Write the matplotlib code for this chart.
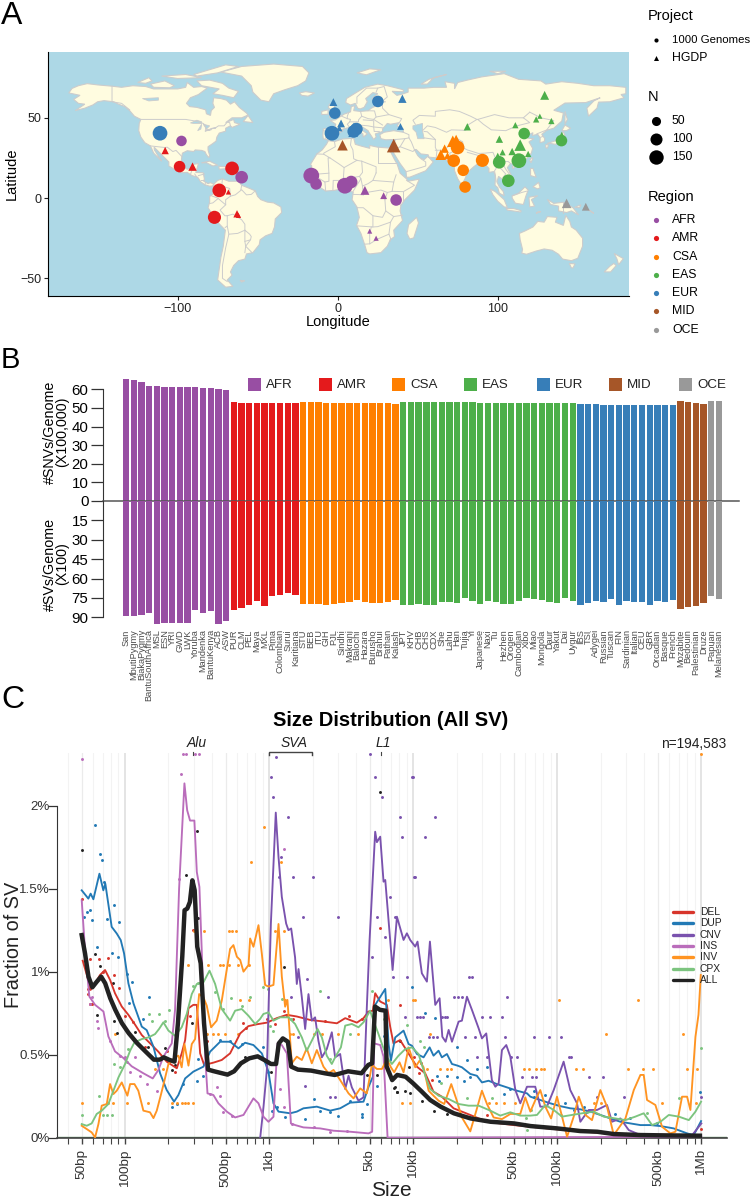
import numpy as np
import matplotlib
matplotlib.use("Agg")
import matplotlib.pyplot as plt
from matplotlib.ticker import NullFormatter

plt.rcParams["font.family"] = ["Liberation Sans", "DejaVu Sans"]
plt.rcParams["axes.unicode_minus"] = True

W, H = 752, 1200

region_names = ["AFR", "AMR", "CSA", "EAS", "EUR", "MID", "OCE"]
region_colors = ["#984EA3", "#E41A1C", "#FF7F00", "#4DAF4A", "#377EB8", "#A65628", "#999999"]

# ---- panel A data: coarse world outline (lon, lat)
land_outlines = [
    [(-168,65.5),(-166,68.3),(-162,70),(-156.5,71.3),(-150,70.5),(-141,69.7),(-135,69),(-128,70),(-120,69.5),(-115,68),(-108,68),(-100,68),(-95,69),(-94,72),(-90,69),(-85,69.5),(-81.5,68.5),(-85,66),(-87,64.5),(-92,62.5),(-94.5,59),(-92.5,57),(-88,56.5),(-82.5,55),(-82,52.5),(-79.5,51.5),(-79,54.5),(-77,56.5),(-78,59),(-77.5,62.5),(-73,62),(-69.5,61),(-67,58.5),(-64.5,60),(-61.5,56.5),(-57,53),(-56,51.7),(-60,50),(-66,50),(-70,47),(-65,49),(-64.5,47),(-61,46),(-66,44),(-67,45),(-70,43.5),(-70,41.7),(-74,40.5),(-75.5,38),(-76,35.5),(-78,34),(-81,32),(-81,30),(-80,26.5),(-80.5,25.2),(-82,27),(-83,29),(-85,29.7),(-89,30),(-90,29),(-94,29.5),(-97,28),(-97.5,25),(-97.8,22),(-96,19),(-94,18),(-91.5,18.5),(-90.5,21),(-87,21.5),(-88,18),(-88.7,16),(-84,15.8),(-83.3,12),(-83.7,10.5),(-81,9),(-79.5,9.6),(-77.4,8.7),(-78,7.5),(-80,7.4),(-83,8.3),(-85.5,10),(-87.5,13),(-91,14),(-94,16),(-97,15.8),(-101,17.3),(-105.5,20),(-105.5,22.5),(-109,26),(-112.5,29.5),(-114.7,31.7),(-114.5,30),(-112,26),(-110,23),(-112,25),(-115,28),(-117,32.5),(-120.5,34.5),(-123,38),(-124.3,42),(-124,46.5),(-123,49),(-127,51),(-130,54.5),(-133,57),(-137,58.5),(-140,60),(-146,60.7),(-150,60),(-153,58),(-158,56),(-164,54.5),(-158,58.5),(-162,59),(-165,61.5),(-161,64)],
    [(-73,78.5),(-60,82),(-40,83.5),(-22,82),(-18,78),(-20,73),(-25,70),(-33,67.5),(-40,65),(-43,60),(-48,61),(-53,66),(-54,70),(-60,76)],
    [(-80,73.5),(-72,71.5),(-68,68.5),(-62,66.5),(-65,62.5),(-72,64),(-78,65),(-74,68),(-85,70),(-88,73)],
    [(-117,71),(-108,73),(-102,70),(-105,68.7),(-115,69)],
    [(-125,72),(-118,75),(-116,73),(-120,71.5)],
    [(-90,77),(-70,83),(-62,82),(-75,78),(-88,76)],
    [(-110,76),(-95,77),(-85,75),(-100,74.5)],
    [(-59,47.7),(-56,51.5),(-53,47)],
    [(-85,22),(-80,23),(-75,20.5),(-78,20),(-82,22)],
    [(-74.3,19.8),(-69,19.5),(-68.5,18.4),(-74,18)],
    [(-77.4,8.7),(-75,11),(-72,12),(-68,10.5),(-62,10.5),(-60,8),(-55,6),(-51.5,4.5),(-50,1),(-48,-1),(-44,-2.5),(-40,-3),(-35.5,-5.5),(-35,-9),(-39,-13),(-39.5,-18),(-41,-22),(-45,-23.5),(-48.5,-26),(-49,-29),(-53,-34),(-57,-34.8),(-58,-38),(-62,-39),(-65,-42),(-67,-46),(-66,-48),(-69,-51),(-65.5,-55),(-70,-55.5),(-75,-51),(-74,-44),(-73,-37),(-71.5,-30),(-70.2,-20),(-76,-14),(-81,-6),(-80,-2.5),(-80,1),(-78,2.5),(-77.5,6),(-78,7.5)],
    [(-5.8,35.8),(-2,35.2),(3,36.8),(10,37.3),(11,33.5),(15,32.3),(20,31),(20,32.8),(25,31.7),(32,31.2),(34.2,31.2),(32.5,29.9),(35.5,24),(37.2,21),(39,15.5),(43,12),(44,10.5),(51,11.8),(48,5),(42,-1),(39.5,-4.5),(39,-8),(40.5,-14),(35,-20),(35.5,-24),(32.8,-26),(31,-30),(27,-34),(20,-34.8),(18.3,-34),(17,-29.5),(14.5,-22),(11.8,-17),(13.5,-12),(12,-5.5),(9,-1),(9.7,3.8),(6,4.3),(4.5,6.2),(-2,4.8),(-7.5,4.4),(-12.5,7.5),(-16.7,12.4),(-17.5,14.7),(-16.2,20),(-17,21),(-13,27.5),(-9.7,30),(-7,33.5)],
    [(49.3,-12),(50.5,-15.5),(47.5,-24.8),(45,-25.5),(43.3,-22),(44.3,-16.5)],
    [(-9,37),(-9.3,39),(-9,43.2),(-2,43.4),(-1.2,46),(-4.7,48.4),(-1.5,48.7),(2,51),(4,52.3),(8,53.7),(8.5,57),(10.7,57.5),(10,54.5),(14,54),(19,54.4),(21,56),(24,57.5),(23.5,59.3),(30,60),(23,60),(21.5,62),(25,65),(22,65.7),(17.5,62),(18.5,60),(16.5,56.5),(14,55.5),(12.5,56),(11,59),(8,58),(5,59.5),(5.5,62),(12,66),(17,69),(25,71),(31,70),(41,67.5),(41,66.2),(34,66.5),(37,64),(40,64.7),(44,66),(44,68.5),(54,68.5),(60,69),(68,69),(67,72.5),(73,71.5),(73,68),(75,72),(81,73.5),(90,75.5),(104,77.5),(113,74),(127,73),(130,71),(140,72.5),(150,71.5),(160,70),(170,70),(180,69),(180,65),(177,64.5),(179,62.5),(170,60),(163,59.8),(162,56),(156.7,51),(155.7,56),(160,60.5),(164,62.5),(155,59.5),(142,59.2),(135,54.7),(141,53),(140,48),(135,43.5),(130.7,42.3),(127.5,39.7),(129.4,37),(129,35.2),(126.4,34.5),(126.5,37.5),(125,39.7),(121.5,39),(122,40.7),(118,39),(119,37.3),(122.5,37),(119.5,35),(121.8,31),(121,28),(118,24.5),(114,22.3),(110,21),(108,21.5),(106,19),(109,13),(109,11.5),(105,8.7),(105,10),(102.5,12),(100.5,13.5),(99.5,10),(101,7),(103.5,4),(104,1.5),(101,3),(100,6.5),(98.3,8),(98.5,14),(97.5,16.5),(94.5,16),(94.5,18.5),(92,21),(90,22),(87,21),(85,19.5),(80.5,15.5),(80,13),(77.5,8),(75,12),(73,17),(72.7,21),(70,21),(69,22.5),(67,24.8),(62,25),(57,25.5),(56.5,27),(52,27.5),(49,30.3),(48,30),(50,26.5),(51.5,25),(54,24),(56.3,26),(59.7,22.5),(55,17),(45,13),(43,13),(42.7,16.5),(39,21.5),(35,28),(34.8,29.5),(34.2,31.2),(35,33),(36,36.5),(30,36.3),(27,37),(26.3,39.5),(29,41),(35,42),(41,41),(41,43),(37,45),(38.5,47),(33,46),(31,46.5),(28,43),(28,41.5),(26,40.8),(23.5,40),(24,38),(22.5,36.5),(19.5,41),(19,42),(13.5,45.5),(12.3,44.5),(18.5,40),(16,38),(15.7,40),(10.5,43),(8.7,44.3),(3.2,43),(3,41.8),(0,40),(-0.5,38),(-2,36.8),(-5.5,36)],
    [(-5,50),(1.5,51.3),(1.7,52.8),(0,53.5),(-2,56),(-2,57.6),(-5,58.6),(-6,56.5),(-3,54),(-4.5,53),(-5,51.7)],
    [(-10,52),(-6,52.2),(-6,55),(-10,54)],
    [(-24,65.5),(-20,66.3),(-14.5,65.5),(-18.5,63.5),(-22.5,64)],
    [(12,78),(20,80.5),(27,80),(18,76.8)],
    [(52,71),(57,74),(68,77),(60,75),(56,71)],
    [(95,79),(105,79),(100,77.5)],
    [(142,54),(143.5,49),(142,46),(142,50)],
    [(140,42),(142,45.5),(145.5,43.5),(143,42)],
    [(131,34),(136,35.7),(140,40),(141,41.5),(142,39),(140.8,35.7),(136,33.5),(133,34)],
    [(130,33.5),(131.7,33),(131,31),(130,31.5)],
    [(121,25),(122,25),(120.8,22),(120,23.5)],
    [(109,20),(111,19.8),(109.5,18.2)],
    [(120.5,18.5),(122,18.5),(124,13),(120.5,14)],
    [(122,7),(125.5,9.8),(126.5,6.5),(125,5.7)],
    [(80,9.7),(82,7),(80.5,6),(79.8,8)],
    [(95.3,5.6),(98.5,4),(104,-1),(106,-5.8),(104,-5.5),(100,-2),(97,2)],
    [(105.2,-6.5),(110,-6.5),(114.5,-7.8),(114.5,-8.7),(106,-7.5)],
    [(109,1.5),(113,3),(117,7),(119,5),(117.5,1),(116,-4),(111,-3.2),(109,0)],
    [(119.5,0.5),(125,1.5),(121,-1),(123,-5),(120,-5.5)],
    [(131,-0.8),(135,-3.3),(141,-2.6),(147,-6),(150.5,-10.5),(146,-8),(143,-9),(138,-8),(138,-5),(133,-4)],
    [(148,-5.7),(152,-4.2),(151,-6)],
    [(156,-7),(160,-9.5),(158,-8)],
    [(124,-9.5),(127,-8.4),(125,-8.6)],
    [(113.5,-22),(114,-26),(115.5,-32),(115,-34.3),(118,-35),(124,-33),(129,-31.7),(134,-32.5),(138,-35),(140.5,-38),(146,-39),(150,-37.5),(153,-30),(153,-25),(149,-20),(146,-18),(145,-14.5),(142.5,-10.8),(141,-17),(136,-15),(137,-12),(131,-11.5),(129,-15),(125,-14.5),(122,-18),(117,-20.5)],
    [(144.7,-40.7),(148.3,-41),(147,-43.5),(146,-43.5)],
    [(172.7,-34.5),(178.5,-37.7),(175.5,-41.5),(174.5,-38)],
    [(172.5,-40.7),(174,-42),(170.5,-46),(166.5,-46),(170,-42.5)],
    [(-61,-51.3),(-58,-51.5),(-60,-52.3)],
]

lake_outlines = [
    [(47,45),(53,46.5),(53,42),(54,37),(50,37),(49,41),(47,43)],
    [(-92,46.8),(-88,48.5),(-85,47.5),(-85,46.5),(-90,46.5)],
    [(-87.5,42),(-85,46),(-85.5,43)],
    [(-84,46),(-80,45),(-82,43)],
    [(-83,41.7),(-79,42.8),(-79,42.5)],
    [(-79.5,43.3),(-76,44),(-76.5,43.3)],
    [(-122,62),(-112,62.5),(-112,61),(-118,60.5)],
]

border_lines = [
    [(-123,49),(-95,49),(-89,48),(-84,46.5),(-82.5,45),(-82.5,42.5),(-79,43),(-76,44),(-74.5,45),(-71,45),(-69,47.3),(-67.5,47),(-67,45)],
    [(-141,69.7),(-141,60),(-135,59),(-130,55)],
    [(-117,32.5),(-108,31.5),(-106.5,31.7),(-103,29),(-101,29.7),(-97.5,26)],
    [(-92,14.7),(-91,17.5),(-89,17.8),(-88.5,18)],
    [(-89.3,15),(-88,13)], [(-87,14),(-83.3,15)], [(-85.7,11),(-83.7,11)], [(-83,8.3),(-82.6,9.5)], [(-77.5,7.5),(-77.4,8.6)],
    [(-72,12),(-72.5,7.5),(-67.5,6),(-67,1.2)], [(-60,8),(-60.5,5.2)],
    [(-67,1.2),(-64,2),(-60,5.2),(-57,2),(-54,2.3),(-51.5,4.5)],
    [(-78.8,1.4),(-75,0),(-70,-4.2),(-70,-1),(-67,1.2)], [(-80,-3.4),(-78,-3),(-75,-0.5)],
    [(-70,-4.2),(-73.5,-7.5),(-70.5,-11),(-69,-11)],
    [(-69,-11),(-65.4,-10),(-60,-13.5),(-58,-16.3),(-58,-20)],
    [(-69,-11),(-69,-17.5),(-70.3,-18.3)],
    [(-69,-17.5),(-68,-22.5),(-70,-31),(-72,-42),(-72,-50),(-69,-52)],
    [(-68,-22.5),(-62.5,-22),(-58,-20),(-58,-27),(-54.5,-26),(-54,-24),(-55,-22.5),(-58,-20)],
    [(-54.5,-26),(-57.5,-30),(-53.5,-34)], [(-58,-27),(-57.5,-30),(-58,-34)],
    [(-2,35),(-1.5,32),(-8.7,28),(-8.7,27.3),(-13,27.5)],
    [(-16.5,16.5),(-12,15),(-5.5,15.5),(-6,25),(-4.8,25),(-8.7,27.3)],
    [(-4.8,25),(1.2,21),(4,19),(12,23.5)],
    [(8.5,37),(8,33),(9.5,30),(10,24.5),(12,23.5)],
    [(25,31.7),(25,22)], [(12,23.5),(15,23),(24,19.5),(24,15.7)], [(25,22),(37,22)],
    [(15,23),(15.5,16),(13.6,13.5)], [(-5.5,15.5),(-5.5,10.5),(-8,10)], [(-12,12.5),(-8,10),(-7.5,4.4)],
    [(-3,5),(-2.8,11),(1,11),(1.2,6)], [(4,19),(3.5,11.7),(2.7,6.3)], [(3.5,11.7),(13.6,13.5),(14.5,12),(9.6,4.2)],
    [(24,15.7),(22,11),(19,9),(15.5,7.5),(14.5,12)], [(15.5,7.5),(16,2),(13,2.2),(9.8,2.3)], [(16,2),(18,3.5),(27,5),(31,3.5)],
    [(22,11),(35,10),(34,4.2),(31,3.5),(29.5,-1)], [(36.5,14.5),(35,10)], [(34,4.2),(41,4),(48,8),(43,11)],
    [(41,4),(41,-1.6)], [(34,-1),(39.5,-4.5)], [(12,-6),(16,-6),(22,-11),(28,-12),(30,-8),(29.5,-1)],
    [(12,-17.3),(22,-18),(22,-11)], [(22,-18),(25,-17.8),(33,-15),(35,-11.5),(40.5,-10.7)], [(30,-8),(35,-11.5)],
    [(20,-28.5),(20,-22),(21,-18)], [(17,-28.7),(20,-28.5),(25,-25.5),(32,-22.5),(33,-25),(32.8,-26.8)], [(32,-22.5),(33,-15)],
    [(-1.8,43.4),(3.2,42.4)], [(-8.8,42),(-6.5,41.5),(-7.5,37.2)], [(2.5,51),(6,49.5),(8,49),(7.5,47.5),(6,46),(7.5,43.8)],
    [(7,53.5),(6,51),(6,49.5)], [(7.5,47.5),(13,47.5),(13,48.7),(15,51),(14.3,53.9)],
    [(19,54.4),(23,54.3),(24,50.5),(22.5,49),(19,49.5),(15,51)], [(24,50.5),(32,52),(40,49.5),(38.5,47)],
    [(22.5,49),(28,45.5)], [(16,48.7),(22.5,48.2),(22.5,44.3),(28.5,43.7)], [(13.5,45.5),(19,45),(22.5,44.3),(22.8,41.5),(26,41.5)],
    [(28,59.5),(28,56),(32,52)], [(28,60.5),(31,63),(29,69.5),(25,68.5),(24,66)], [(12,59),(12,63),(18,68.5),(25,68.5)],
    [(36,36.5),(42,37),(44.5,37.5),(44.5,39.5),(41,41)], [(44.5,37.5),(46,35),(48,30)], [(35,29.5),(39,32),(47,29),(48,30)], [(39,32),(42,37)],
    [(43,16.5),(52,19),(55,20),(55,22.5),(52,24.5)],
    [(54,37.5),(61,36.5),(61,31.5),(62,29.5),(61.5,25)], [(61,29.8),(66.5,29.8),(70,33),(71.5,36.5),(74.8,37)], [(54,41.5),(56,41.3),(61,36.5)],
    [(53,42),(56,45),(61,44),(68,41),(71,42.5),(80,42.2),(80.5,45),(87,49),(83,51),(76,54),(70,55),(61,54),(61,51),(51,51.5),(47,48.5),(48.5,46)],
    [(87.5,49),(98,52),(107,50),(116,50),(120,47),(112,45),(105,42),(96,42.5),(91,46),(87.5,49)],
    [(120,53.5),(127,50),(135,48.3),(131,43),(130.7,42.3)], [(116,50),(120,53.5)], [(130.7,42.5),(124.4,40)], [(126.5,37.8),(128.5,38.5)],
    [(74.8,37),(78,35),(79,31),(81,30),(88,27.8),(92,28),(97,28.5),(98.5,25),(97.5,24),(101,21.5),(102,22.5),(106.5,22.8),(108,21.5)],
    [(78,35),(74.5,33),(74.5,30),(70,28),(70.5,25),(68,23.8)], [(81,28.5),(88,26.5)], [(88.5,26),(89,22.2)], [(92,25),(92.3,21)],
    [(101,21.5),(98,17),(98.8,12),(99,10.5)], [(100.5,20),(105,15),(103,12.5)], [(102.5,22.5),(105,18),(107.5,14.5),(106,11),(105,10.5)],
    [(109.5,1.5),(115,3.5),(118,4.3)], [(141,-2.6),(141,-9)],
]

# sampled populations
site_lon = [-111, -1.8, -3.6, 11.7, 10, 25.1,
            -97.6, -60, -16.5, -13.5, 4.5, 8.4, 36.5,
            -98.8, -66, -74, -77,
            72.5, 74.9, 90.4, 78.4, 79.6,
            116.5, 139.8, 100.9, 113.2, 106.6,
            -2.7, 40.4, 2.1, 10.2, 9.6, 39.2, 1,
            3, 35,
            17, 28.7, 20, 24,
            -107.8, -90.7, -68.3, -62.9, -62,
            64.4, 66.8, 68.6, 71.9, 74,
            129.3, 81, 111, 124, 126.3, 133.5, 101, 114, 103, 109, 119, 140, 100,
            143, 155]
site_lat = [40.4, 52.9, 40.4, 43, 41.5, 60.2,
            35.6, 13, 14, 8.8, 7.7, 10, -1.2,
            19.6, 18.5, 4.8, -12,
            23.3, 31.5, 23.5, 17.3, 6.9,
            40.2, 35.8, 22.3, 23.3, 10.8,
            59.8, 61.9, 46.5, 44.8, 41, 44.6, 43.5,
            32.9, 32.7,
            4.8, 1.5, -20.6, -25,
            29.6, 19.6, 3.8, -9.8, -10.8,
            27, 30.8, 26.5, 35.4, 36.5,
            64, 44.4, 45.4, 49, 51, 48, 36.7, 33, 28.5, 29, 27.5, 39, 26,
            -3.3, -5.4]
site_n = [128, 73, 128, 90, 90, 73,
          58, 90, 150, 73, 150, 90, 73,
          73, 108, 108, 99,
          90, 108, 99, 73, 73,
          73, 73, 90, 128, 90,
          25, 31, 25, 20, 44, 15, 10,
          58, 108,
          37, 15, 1, 2,
          20, 31, 2, 20, 2,
          58, 31, 15, 73, 44,
          37, 20, 10, 10, 2, 10, 20, 73, 10, 20, 10, 20, 20,
          44, 25]
site_region = ["EUR"] * 6 + ["AFR"] * 7 + ["AMR"] * 4 + ["CSA"] * 5 + ["EAS"] * 5 + ["EUR"] * 7 + ["MID"] * 2 + ["AFR"] * 4 + ["AMR"] * 5 + ["CSA"] * 5 + ["EAS"] * 13 + ["OCE"] * 2
site_project = ["o"] * 27 + ["^"] * 38

# ---- panel B data
pop_names = ["San", "MbutiPygmy", "BiakaPygmy", "BantuSouthAfrica", "MSL", "ESN", "YRI", "GWD", "LWK", "Yoruba", "Mandenka", "BantuKenya", "ACB", "ASW",
             "PUR", "CLM", "PEL", "Maya", "MXL", "Pima", "Colombian", "Surui", "Karitiana",
             "STU", "BEB", "ITU", "GIH", "PJL", "Sindhi", "Makrani", "Balochi", "Hazara", "Burusho", "Brahui", "Pathan", "Kalash",
             "JPT", "KHV", "CHB", "CHS", "CDX", "She", "Lahu", "Han", "Tujia", "Yi", "Japanese", "Naxi", "Tu", "Hezhen", "Orogen", "Cambodian", "Xibo", "Miao", "Mongola", "Daur", "Yakut", "Dai", "Uygur",
             "IBS", "TSI", "Adygei", "Russian", "Tuscan", "FIN", "Sardinian", "Italian", "CEU", "GBR", "Orcadian", "Basque", "French",
             "Mozabite", "Bedouin", "Palestinian", "Druze",
             "Papuan", "Melanesian"]
pop_counts = [14, 9, 13, 23, 13, 4, 2]
snv_per_genome = [65.6, 64.9, 64.2, 62.0, 61.8, 61.5, 61.5, 61.3, 61.3, 61.1, 60.9, 60.7, 60.4, 59.5,
                  53.2, 52.9, 52.9, 52.9, 52.7, 52.7, 52.7, 52.5, 52.5,
                  53.0, 53.0, 53.0, 52.9, 52.8, 52.8, 52.8, 52.6, 52.6, 52.5, 52.5, 52.5, 52.3,
                  53.2, 53.2, 53.2, 53.1, 53.1, 53.1, 53.0, 53.0, 53.0, 53.0, 52.9, 52.9, 52.9, 52.9, 52.9, 52.8, 52.8, 52.8, 52.8, 52.7, 52.7, 52.6, 52.4,
                  52.0, 51.9, 51.9, 51.8, 51.8, 51.8, 51.7, 51.7, 51.7, 51.7, 51.6, 51.6, 51.6,
                  53.9, 53.0, 52.9, 52.3,
                  53.7, 53.5]
sv_per_genome = [88.7, 89, 88.4, 86.4, 94.9, 94.4, 94.6, 94.6, 94.6, 84.3, 86.6, 84.8, 94.9, 92.6,
                 84, 82.8, 80.2, 77.1, 81, 73.3, 72.8, 71.5, 73,
                 80, 80, 79.4, 80.5, 80, 79, 78.2, 76.4, 78.2, 79, 79.2, 77.9, 76.4,
                 80.2, 80.7, 79.4, 80.7, 80.5, 78.2, 77.9, 79.2, 74.8, 77.4, 79.7, 77.4, 78.4, 79.7, 79.7, 77.1, 75.3, 75.8, 76.6, 77.9, 78.9, 75, 77.1,
                 80.7, 79.2, 77.4, 78.2, 75.8, 80.2, 77.4, 78.2, 78.2, 80.2, 77.6, 78.2, 76.6,
                 83.8, 82, 81.5, 79.2,
                 73.3, 75.8]

# ---- panel C data: (log10 size in bp, percent of SV)
del_line = [(1.706,1.066),(1.738,.97),(1.761,.89),(1.792,.93),(1.826,.98),(1.861,1.01),(1.896,.95),(1.93,.87),(1.977,.79),(2.023,.74),(2.07,.68),(2.116,.618),(2.174,.568),(2.231,.518),(2.289,.458),(2.359,.418),(2.393,.508),(2.417,.588),(2.44,.78),(2.474,.80),(2.498,.80),(2.521,.508),(2.549,.438),(2.613,.452),(2.671,.468),(2.729,.508),(2.764,.568),(2.799,.628),(2.856,.672),(2.914,.683),(2.984,.693),(3.053,.72),(3.123,.74),(3.192,.73),(3.285,.709),(3.377,.70),(3.47,.689),(3.528,.72),(3.609,.693),(3.655,.72),(3.69,.76),(3.72,.765),(3.736,.87),(3.771,.82),(3.817,.80),(3.84,.669),(3.863,.568),(3.909,.588),(3.967,.508),(4.025,.428),(4.083,.388),(4.141,.277),(4.199,.247),(4.28,.177),(4.396,.137),(4.512,.096),(4.697,.076),(5,.05),(5.39,.022),(5.99,.014)]
dup_line = [(1.699,1.49),(1.745,1.44),(1.761,1.47),(1.78,1.436),(1.822,1.59),(1.849,1.49),(1.863,1.53),(1.907,1.27),(1.942,1.23),(1.97,1.19),(1.993,1.11),(2.023,.93),(2.058,.81),(2.116,.669),(2.15,.648),(2.197,.548),(2.243,.388),(2.289,.287),(2.34,.217),(2.37,.257),(2.417,.357),(2.474,.398),(2.544,.428),(2.59,.518),(2.66,.578),(2.729,.578),(2.787,.538),(2.833,.572),(2.891,.558),(2.949,.508),(2.995,.398),(3.03,.207),(3.065,.157),(3.146,.147),(3.192,.157),(3.238,.177),(3.331,.187),(3.424,.163),(3.493,.177),(3.562,.211),(3.655,.217),(3.69,.307),(3.72,.367),(3.736,.80),(3.806,.896),(3.829,.564),(3.845,.464),(3.875,.604),(3.933,.645),(3.968,.564),(3.991,.554),(4.026,.504),(4.072,.484),(4.114,.544),(4.141,.494),(4.176,.524),(4.199,.484),(4.234,.504),(4.269,.444),(4.308,.434),(4.338,.424),(4.396,.384),(4.442,.373),(4.477,.333),(4.523,.343),(4.581,.323),(4.651,.303),(4.72,.283),(4.79,.267),(4.813,.247),(4.882,.227),(4.952,.207),(5.021,.19),(5.09,.177),(5.16,.171),(5.23,.157),(5.299,.137),(5.369,.116),(5.438,.096),(5.507,.086),(5.577,.076),(5.646,.076),(5.716,.07),(5.808,.056),(5.901,.026),(5.947,.016),(5.998,.10)]
cnv_line = [(2.938,0),(2.961,.187),(2.984,.407),(3.012,1.29),(3.046,1.958),(3.065,1.69),(3.088,1.45),(3.118,1.29),(3.134,1.25),(3.153,1.26),(3.18,1.086),(3.192,.926),(3.204,1.016),(3.227,.845),(3.25,.655),(3.273,.865),(3.296,.705),(3.319,.725),(3.342,.584),(3.366,.484),(3.4,.534),(3.435,.635),(3.458,.484),(3.493,.504),(3.528,.293),(3.551,.373),(3.574,.303),(3.62,.223),(3.655,.243),(3.678,.785),(3.697,1.187),(3.736,1.843),(3.748,1.78),(3.771,1.813),(3.794,1.542),(3.806,1.552),(3.857,1.01),(3.887,1.331),(3.933,1.191),(3.956,1.231),(3.979,1.191),(4.014,1.151),(4.03,1.181),(4.06,.99),(4.095,.94),(4.116,1.181),(4.153,.80),(4.183,.84),(4.202,.608),(4.225,.578),(4.246,.649),(4.269,.578),(4.315,.699),(4.338,.705),(4.373,.849),(4.408,.769),(4.454,.659),(4.477,.598),(4.507,.628),(4.546,.347),(4.57,.307),(4.593,.327),(4.616,.528),(4.646,.558),(4.674,.488),(4.709,.287),(4.743,.207),(4.79,.307),(4.847,.307),(4.882,.187),(4.928,.187),(4.975,.287),(5.044,.458),(5.09,.287),(5.137,.207),(5.16,.096),(5.218,.167),(5.276,.167),(5.345,.197),(5.38,.096),(5.438,.116),(5.496,.046),(5.577,.016),(5.739,.006),(5.924,.002),(6,.086)]
ins_line = [(1.699,1.43),(1.722,1.13),(1.752,.85),(1.792,.80),(1.85,.76),(1.884,.61),(1.93,.52),(1.988,.48),(2.046,.43),(2.127,.388),(2.192,.357),(2.231,.408),(2.266,.488),(2.324,.568),(2.347,.77),(2.375,1.5),(2.412,2.134),(2.431,1.972),(2.451,1.91),(2.481,1.91),(2.498,1.60),(2.516,1.51),(2.532,1.13),(2.556,.488),(2.572,.267),(2.613,.257),(2.648,.207),(2.706,.157),(2.764,.122),(2.822,.137),(2.891,.237),(2.926,.207),(2.961,.126),(2.995,.096),(3.03,.126),(3.058,.568),(3.088,.558),(3.123,.508),(3.151,.086),(3.181,.076),(3.238,.062),(3.354,.056),(3.447,.042),(3.562,.036),(3.69,.026),(3.715,.036),(3.729,.568),(3.771,.558),(3.794,.488),(3.822,0),(6,.006)]
inv_line = [(1.699,.072),(1.734,.052),(1.768,.032),(1.792,.002),(1.815,.082),(1.838,.193),(1.873,.203),(1.896,.323),(1.919,.263),(1.942,.283),(1.977,.333),(2.016,.253),(2.035,.323),(2.065,.323),(2.092,.283),(2.127,.163),(2.173,.153),(2.197,.118),(2.22,.163),(2.25,.263),(2.273,.343),(2.301,.444),(2.347,.484),(2.37,.494),(2.393,.424),(2.412,.564),(2.44,.434),(2.463,.564),(2.486,.594),(2.514,.865),(2.544,.845),(2.567,.795),(2.597,.665),(2.636,.705),(2.671,.825),(2.729,1.137),(2.752,1.16),(2.776,1.09),(2.799,1.07),(2.822,1.0),(2.857,1.04),(2.868,1.2),(2.891,1.15),(2.926,1.28),(2.949,1.11),(2.972,.92),(2.995,.91),(3.03,.92),(3.065,1.287),(3.088,.97),(3.111,.789),(3.127,.83),(3.157,.448),(3.192,.488),(3.227,.468),(3.261,.538),(3.296,.448),(3.331,.528),(3.377,.428),(3.412,.388),(3.447,.408),(3.493,.347),(3.551,.267),(3.586,.237),(3.632,.297),(3.678,.267),(3.713,.438),(3.748,.414),(3.783,.414),(3.817,.474),(3.845,.424),(3.868,.394),(3.905,.454),(3.933,.394),(3.968,.544),(4.014,.424),(4.044,.464),(4.072,.424),(4.107,.283),(4.141,.253),(4.176,.223),(4.215,.203),(4.264,.323),(4.299,.233),(4.338,.122),(4.396,.038),(4.438,.163),(4.477,.283),(4.512,.203),(4.558,.122),(4.616,.112),(4.674,.143),(4.743,.143),(4.778,.243),(4.813,.157),(4.848,.227),(4.882,.287),(4.917,.187),(4.957,.116),(4.998,.247),(5.033,.127),(5.068,.006),(5.114,.127),(5.149,.247),(5.195,.137),(5.241,.106),(5.299,.287),(5.345,.187),(5.392,.016),(5.473,.116),(5.531,.287),(5.577,.378),(5.6,.378),(5.623,.227),(5.681,.197),(5.727,.066),(5.785,.026),(5.82,.036),(5.866,.247),(5.901,.247),(5.924,.167),(5.959,.608),(5.98,.74),(5.996,.98)]
cpx_line = [(1.699,.082),(1.734,.072),(1.768,.086),(1.803,.143),(1.838,.163),(1.884,.203),(1.919,.283),(1.954,.363),(2.0,.444),(2.035,.524),(2.065,.574),(2.116,.594),(2.162,.604),(2.208,.624),(2.236,.655),(2.266,.695),(2.301,.645),(2.347,.614),(2.393,.665),(2.428,.745),(2.463,.865),(2.498,.926),(2.544,.936),(2.586,1.006),(2.625,.926),(2.671,.775),(2.729,.705),(2.764,.765),(2.81,.775),(2.856,.735),(2.903,.685),(2.937,.715),(2.96,.745),(2.995,.755),(3.03,.705),(3.076,.725),(3.134,.725),(3.18,.685),(3.227,.604),(3.261,.524),(3.296,.584),(3.336,.655),(3.366,.604),(3.4,.494),(3.435,.444),(3.458,.484),(3.498,.544),(3.528,.675),(3.574,.685),(3.62,.665),(3.655,.695),(3.701,.765),(3.724,.705),(3.759,.624),(3.783,.564),(3.817,.484),(3.852,.444),(3.898,.494),(3.945,.534),(3.991,.544),(4.037,.504),(4.084,.373),(4.118,.293),(4.176,.253),(4.246,.233),(4.315,.203),(4.384,.193),(4.454,.193),(4.535,.163),(4.604,.133),(4.674,.153),(4.743,.133),(4.813,.133),(4.859,.137),(4.917,.197),(4.975,.167),(5.033,.127),(5.102,.137),(5.172,.147),(5.253,.157),(5.322,.127),(5.403,.116),(5.473,.106),(5.542,.127),(5.6,.147),(5.658,.076),(5.716,.096),(5.774,.137),(5.843,.127),(5.913,.106),(5.959,.157),(5.998,.217)]
all_line = [(1.699,1.22),(1.722,1.11),(1.746,.97),(1.773,.906),(1.804,.94),(1.834,.97),(1.862,.93),(1.897,.84),(1.932,.77),(1.978,.69),(2.025,.63),(2.083,.57),(2.141,.52),(2.2,.47),(2.241,.47),(2.269,.484),(2.304,.47),(2.343,.458),(2.367,.69),(2.397,1.09),(2.413,1.37),(2.432,1.38),(2.45,1.42),(2.467,1.55),(2.483,1.49),(2.501,1.15),(2.525,1.05),(2.548,.69),(2.576,.41),(2.618,.40),(2.664,.39),(2.711,.38),(2.757,.40),(2.804,.448),(2.862,.478),(2.92,.49),(2.967,.468),(3.013,.444),(3.048,.444),(3.067,.568),(3.095,.598),(3.13,.578),(3.153,.428),(3.2,.41),(3.292,.404),(3.386,.388),(3.455,.378),(3.548,.40),(3.641,.388),(3.688,.438),(3.715,.448),(3.735,.79),(3.769,.77),(3.808,.765),(3.815,.43),(3.854,.347),(3.889,.378),(3.947,.367),(4.0,.327),(4.06,.277),(4.118,.227),(4.19,.187),(4.282,.147),(4.398,.116),(4.537,.096),(4.699,.086),(4.815,.07),(5,.056),(5.16,.04),(5.277,.036),(5.393,.022),(5.578,.016),(5.74,.014),(5.99,.012)]

del_dots = [(1.757,1.076),(1.819,1.076),(1.884,1.082),(1.926,.98),(1.961,.9),(1.74,.896),(1.757,.805),(1.768,.805),(1.745,.866),(1.849,.996),(2,.735),(2.058,.695),(2.139,.544),(2.289,.524),(2.347,.394),(2.451,.735),(2.567,.584),(1.701,1.436),(2.474,1.25),(3.771,1.26),(3.907,.80),(4.005,.488),(4.051,.448),(4.04,.388),(4.132,.347),(5.995,.052),(4.514,.137),(2.822,.691),(2.838,.66),(2.984,.715),(3.042,.685),(3.1,.765),(3.123,.735),(3.169,.715),(3.389,.705),(3.551,.735),(3.643,.715),(3.678,.755)]
dup_dots = [(1.789,1.886),(1.824,1.71),(1.84,1.67),(1.856,1.54),(1.877,1.32),(1.926,1.4),(1.961,1.3),(1.805,1.15),(1.768,1.31),(1.754,1.37),(1.736,1.36),(1.717,1.33),(1.907,1.11),(1.954,1.086),(2.011,.986),(2.046,.936),(2.03,.811),(2.167,.845),(2.127,.715),(2.324,.183),(2.359,.203),(2.405,.323),(2.498,.343),(2.509,.474),(2.544,.373),(2.66,.588),(2.729,.584),(2.81,.564),(2.96,.544),(2.995,.394),(3.018,.163),(3.053,.183),(3.111,.122),(3.25,.112),(3.308,.233),(3.354,.163),(3.424,.153),(3.481,.133),(3.562,.223),(3.643,.143),(3.643,.122),(3.678,.203),(3.748,.313),(3.794,.614),(3.991,.906),(4.079,.751),(4.148,.721),(4.303,.544),(4.373,.47),(4.234,.373),(4.176,.343),(4.165,.373),(4.512,.424),(4.442,.414),(4.396,.363),(4.35,.343),(4.303,.363),(4.674,.293),(4.627,.263),(4.836,.243),(4.836,.283),(4.917,.257),(5.056,.207),(5.114,.167),(5.183,.187),(5.403,.14),(5.507,.116),(5.693,.086),(5.994,.273)]
cnv_dots = [(3.046,2.295),(3.012,2.175),(3.03,2.05),(3.132,1.93),(3.167,1.57),(3.303,1.57),(3.236,1.33),(3.475,1.33),(3.065,1.57),(3.079,1.69),(3.702,2.31),(3.734,2.175),(3.785,2.05),(3.905,1.93),(3.924,1.81),(3.993,2.175),(4.007,1.57),(3.836,1.45),(3.752,1.33),(3.873,1.33),(3.803,1.21),(4,2.17),(4.148,1.93),(4.079,1.81),(4.012,1.57),(3.859,.966),(3.958,.966),(4.387,.966),(4.41,.966),(4.282,.845),(4.31,.845),(4.34,.845),(4.648,.845),(3.94,.725),(4.028,.725),(4.046,.725),(4.065,.725),(4.201,.725),(4.218,.725),(4.236,.725),(4.475,.725),(4.53,.725),(4.618,.725),(4.113,.604),(4.137,.604),(4.167,.604),(4.356,.604),(4.426,.604),(4.634,.604),(4.838,.604),(4.942,.604),(5.023,.604),(5.22,.363),(5.317,.363),(5.081,.484),(5.097,.484),(4.676,.484),(4.718,.484),(4.444,.484),(4.514,.484),(4.824,.363),(4.854,.363),(4.757,.363),(5.278,.243),(5.463,.243),(5.996,.243),(3.424,.243),(3.458,.243),(3.25,.313),(3.197,.604),(3.266,.956),(3.407,.845),(3.15,.845),(3.713,1.086)]
ins_dots = [(1.704,2.28),(2.391,2.19),(2.375,1.56),(2.405,2.31),(2.424,2.31),(2.486,2.31),(2.514,2.31),(3.1,1.74),(1.757,.805),(1.768,.845),(1.815,.66),(1.803,.705),(1.896,.584),(1.965,.494),(2,.484),(2.07,.484),(2.035,.394),(2.104,.373),(2.15,.323),(2.22,.283),(2.59,.263),(2.636,.303),(2.66,.253),(2.683,.153),(2.741,.133),(3.076,.293),(3.1,.183),(3.157,.082),(3.308,.062),(3.424,.032),(3.54,.038)]
inv_dots = [(1.704,.207),(1.884,.207),(1.919,.207),(2.011,.207),(2.162,.207),(2.324,.207),(2.359,.207),(2.393,.207),(2.417,.207),(2.44,.207),(2.474,.207),(2.208,.414),(2.266,.414),(1.93,.622),(2.567,.622),(2.613,.622),(2.648,.622),(2.694,.622),(2.787,.622),(3.146,.622),(3.169,.622),(3.308,.622),(3.366,.622),(3.481,.622),(3.62,.622),(2.799,.829),(2.857,.829),(3.111,.829),(2.44,1.04),(2.579,1.04),(2.66,1.04),(2.683,1.04),(2.718,1.04),(2.787,1.04),(2.857,1.04),(2.479,1.247),(2.549,1.247),(2.718,1.247),(2.741,1.247),(2.769,1.247),(3.042,1.247),(3.1,1.247),(2.873,1.66),(3.083,1.66),(2.961,1.87),(3.824,.829),(3.998,.829),(4.012,.829),(5.012,.829),(5.563,.829),(4.116,.622),(5.34,.622),(5.873,.622),(4.093,.414),(4.185,.414),(4.236,.414),(4.264,.414),(4.769,.414),(4.803,.414),(4.85,.414),(4.884,.414),(4.907,.414),(5.127,.414),(5.178,.414),(5.493,.414),(5.597,.414),(5.664,.414),(5.903,.414),(5.972,.414),(3.924,.207),(3.977,.207),(4.525,.207),(4.572,.207),(4.63,.207),(4.704,.207),(5.255,.207),(5.3,.207),(5.73,.207),(5.96,.207),(5.995,2.31)]
cpx_dots = [(1.704,.139),(1.821,.253),(1.849,.137),(1.873,.137),(1.912,.137),(2.023,.534),(1.926,.444),(1.965,.424),(2.011,.454),(2.167,.745),(2.238,.745),(2.305,.769),(2.278,.705),(2.185,.70),(2.474,.916),(2.509,.932),(2.734,.841),(2.625,.875),(2.678,.775),(2.96,.91),(2.995,.896),(2.868,.845),(2.81,.791),(3.088,.835),(3.15,.715),(3.354,.886),(3.03,.645),(3.007,.675),(3.562,.625),(3.713,.886),(3.794,.715),(3.424,.474),(4.046,.584),(3.958,.679),(4.074,.548),(4.19,.327),(4.375,.237),(4.549,.237),(4.815,.167),(4.792,.046),(4.78,.116),(5.995,.538),(5.845,.237),(5.208,.157),(5.625,.147),(5.023,.137)]
all_dots = [(1.699,1.733),(1.788,1.104),(1.826,1.034),(1.919,.93),(1.924,.7),(1.942,.628),(1.803,.739),(1.752,.9),(2.069,.638),(2.162,.548),(2.278,.538),(2.324,.408),(2.347,.438),(2.426,1.582),(2.498,1.847),(2.509,1.321),(2.463,.689),(2.567,.458),(2.833,.488),(3.1,1.026),(3.012,.398),(3.771,2.084),(3.678,.378),(3.748,.378),(3.875,.307),(3.886,.277),(3.868,.299),(3.887,.273),(3.945,.283),(3.975,.267),(4.06,.223),(4.141,.163),(4.234,.143),(3.91,.584),(3.968,.424)]

sv_names = ["DEL", "DUP", "CNV", "INS", "INV", "CPX", "ALL"]
sv_colors = ["#D7352B", "#2279B5", "#7A52AE", "#BA6DBB", "#FF9422", "#7CC47F", "#222222"]
sv_lines = [del_line, dup_line, cnv_line, ins_line, inv_line, cpx_line, all_line]
sv_dots = [del_dots, dup_dots, cnv_dots, ins_dots, inv_dots, cpx_dots, all_dots]

major_sizes = [50, 100, 500, 1e3, 5e3, 1e4, 5e4, 1e5, 5e5, 1e6]
major_labels = ["50bp", "100bp", "500bp", "1kb", "5kb", "10kb", "50kb", "100kb", "500kb", "1Mb"]
minor_sizes = [40, 60, 70, 80, 90, 200, 300, 400, 600, 700, 800, 900, 2e3, 3e3, 4e3, 6e3, 7e3, 8e3, 9e3,
               2e4, 3e4, 4e4, 6e4, 7e4, 8e4, 9e4, 2e5, 3e5, 4e5, 6e5, 7e5, 8e5, 9e5]
frac_ticks = [0, 0.5, 1, 1.5, 2]
frac_labels = ["0%", "0.5%", "1%", "1.5%", "2%"]

fig = plt.figure(figsize=(W / 100, H / 100), dpi=100, facecolor="white")


def axes_px(left, top, right, bottom):
    return fig.add_axes([left / W, 1 - bottom / H, (right - left) / W, (bottom - top) / H])


def marker_size(n):
    # marker width in px grows with N, returned as points squared
    return (np.array(n) * 1.25 + 20) * 0.72 ** 2 * 1.2


# ---- panel A
ax_map = axes_px(48, 52, 629, 296)
ax_map.set_facecolor("#ADD8E6")
for outline in land_outlines:
    lon, lat = zip(*outline)
    ax_map.fill(lon, lat, facecolor="#FFFCE0", edgecolor="#CCCCCC", linewidth=0.8, zorder=1)
for outline in lake_outlines:
    lon, lat = zip(*outline)
    ax_map.fill(lon, lat, facecolor="#ADD8E6", edgecolor="#CCCCCC", linewidth=0.6, zorder=1.5)
for line in border_lines:
    lon, lat = zip(*line)
    ax_map.plot(lon, lat, color="#CCCCCC", linewidth=0.7, zorder=2)

for marker in ["^", "o"]:
    idx = [i for i, m in enumerate(site_project) if m == marker]
    ax_map.scatter(
        [site_lon[i] for i in idx],
        [site_lat[i] for i in idx],
        s=marker_size([site_n[i] for i in idx]),
        c=[region_colors[region_names.index(site_region[i])] for i in idx],
        marker=marker,
        linewidths=0,
        zorder=3,
    )

ax_map.set_xlim(-181, 182)
ax_map.set_ylim(-61, 91)
ax_map.set_xticks([-100, 0, 100])
ax_map.set_yticks([-50, 0, 50])
ax_map.tick_params(labelsize=9, length=3, width=0.8, pad=2, colors="#222222")
ax_map.spines["top"].set_visible(False)
ax_map.spines["right"].set_visible(False)

# ---- panel B
ax_snv = axes_px(103, 378, 739, 501)
ax_sv = axes_px(103, 501, 739, 625)
bar_x = np.arange(len(pop_names))
bar_colors = []
for color, count in zip(region_colors, pop_counts):
    bar_colors += [color] * count

ax_snv.bar(bar_x, snv_per_genome, width=0.82, color=bar_colors)
ax_sv.bar(bar_x, sv_per_genome, width=0.82, color=bar_colors)
ax_snv.set_ylim(0, 66.1)
ax_sv.set_ylim(95.9, 0)
for ax in [ax_snv, ax_sv]:
    ax.set_xlim(-2.99, 79.6)
    ax.set_facecolor("none")
    ax.spines["top"].set_visible(False)
    ax.spines["right"].set_visible(False)
    ax.spines["left"].set_color("#333333")
    ax.tick_params(axis="y", labelsize=10.8, length=8.5, width=0.9, pad=2, color="#333333")
ax_snv.spines["bottom"].set_color("#555555")
ax_snv.spines["bottom"].set_linewidth(1.1)
ax_sv.spines["bottom"].set_visible(False)
ax_snv.spines["left"].set_bounds(0, 60)
ax_sv.spines["left"].set_bounds(0, 90)
ax_snv.set_yticks(np.arange(0, 61, 10))
ax_sv.set_yticks(np.arange(15, 91, 15))
ax_snv.set_xticks([])
ax_sv.set_xticks(bar_x)
ax_sv.set_xticklabels(pop_names, rotation=90, fontsize=6.7, color="#4D4D4D")
ax_sv.tick_params(axis="x", length=0, pad=3)

# ---- panel C
ax_size = axes_px(57, 753, 727, 1137.7)
ax_size.set_xscale("log")
ax_size.set_xlim(10 ** 1.5275, 10 ** 6.178)
ax_size.set_ylim(0, 2.317)

for size in minor_sizes:
    ax_size.axvline(size, color="#F3F3F3", linewidth=0.8, zorder=0)
for size in major_sizes:
    strong = size in [100, 1e3, 1e4, 1e5, 1e6]
    ax_size.axvline(size, color="#DDDDDD" if strong else "#EBEBEB", linewidth=1.1 if strong else 0.9, zorder=0)
ax_size.axhline(0.004, color="#5F8F63", linewidth=1.0, zorder=1)

for name, color, dots in zip(sv_names, sv_colors, sv_dots):
    dot_x, dot_y = zip(*dots)
    ax_size.scatter(10 ** np.array(dot_x), dot_y, s=4.5, color=color, linewidths=0, zorder=2)
for name, color, line in zip(sv_names, sv_colors, sv_lines):
    line_x, line_y = zip(*line)
    ax_size.plot(10 ** np.array(line_x), line_y, color=color,
                 linewidth=3.2 if name == "ALL" else 1.35, zorder=4 if name == "ALL" else 3,
                 solid_joinstyle="round")

ax_size.set_xticks(major_sizes)
ax_size.set_xticklabels(major_labels, rotation=90, fontsize=9.7, color="#333333")
ax_size.set_xticks(minor_sizes, minor=True)
ax_size.xaxis.set_minor_formatter(NullFormatter())
ax_size.tick_params(axis="x", which="both", length=4.3, width=0.8, color="#444444", pad=4)
ax_size.tick_params(axis="x", which="major", width=1.0)
ax_size.set_yticks(frac_ticks)
ax_size.set_yticklabels(frac_labels, fontsize=9.6, color="#333333")
ax_size.tick_params(axis="y", length=6.5, width=0.9, color="#333333", pad=-1.5)
ax_size.spines["top"].set_visible(False)
ax_size.spines["right"].set_visible(False)
ax_size.spines["left"].set_bounds(0, 2)
ax_size.spines["left"].set_color("#333333")
ax_size.spines["bottom"].set_color("#444444")
ax_size.spines["bottom"].set_linewidth(1.2)

# ---- legends, letters and other text, placed in figure pixels
over = fig.add_axes([0, 0, 1, 1], zorder=10)
over.set_xlim(0, W)
over.set_ylim(H, 0)
over.axis("off")

over.text(1, 24, "A", fontsize=23, ha="left", va="baseline")
over.text(1, 368, "B", fontsize=21, ha="left", va="baseline")
over.text(1, 708, "C", fontsize=23, ha="left", va="baseline")

over.text(338, 322, "Longitude", fontsize=10.5, ha="center", va="center")
over.text(12, 174, "Latitude", fontsize=10.5, rotation=90, ha="center", va="center")

over.text(648, 16, "Project", fontsize=10.5, va="center")
over.scatter([656], [40], s=9, color="black", marker="o", linewidths=0)
over.scatter([656], [58], s=13, color="black", marker="^", linewidths=0)
over.text(672, 40, "1000 Genomes", fontsize=8.2, va="center")
over.text(672, 58, "HGDP", fontsize=8.8, va="center")

over.text(648, 97, "N", fontsize=10.5, va="center")
for n, y in zip([50, 100, 150], [121, 139, 157]):
    over.scatter([656], [y], s=marker_size(n) / 1.2, color="black", marker="o", linewidths=0)
    over.text(672, y, str(n), fontsize=8.8, va="center")

over.text(648, 197, "Region", fontsize=10.5, va="center")
for name, color, y in zip(region_names, region_colors, [220, 238, 257, 275, 293, 311, 330]):
    over.scatter([656], [y], s=14, color=color, marker="o", linewidths=0)
    over.text(672, y, name, fontsize=8.8, va="center")

over.text(56, 432, "#SNVs/Genome\n(X100,000)", fontsize=10.3, rotation=90, ha="center", va="center", linespacing=0.85)
over.text(56, 564, "#SVs/Genome\n(X100)", fontsize=10.3, rotation=90, ha="center", va="center", linespacing=0.85)

for name, color, x in zip(region_names, region_colors, [248, 319, 392, 464, 537, 609, 679]):
    over.fill_between([x, x + 12.5], 378, 390.5, color=color, linewidth=0)
    over.text(x + 18, 384.5, name, fontsize=9.6, va="center", color="#222222")

over.text(391, 720, "Size Distribution (All SV)", fontsize=14.5, fontweight="bold", ha="center", va="center")
over.text(197, 743, "Alu", fontsize=10, style="italic", ha="center", va="center", color="#222222")
over.text(294, 743, "SVA", fontsize=10, style="italic", ha="center", va="center", color="#222222")
over.text(383, 743, "L1", fontsize=10, style="italic", ha="center", va="center", color="#222222")
over.plot([269, 269, 312, 312], [755, 752, 752, 755], color="#444444", linewidth=1.0)
over.plot([193.3, 193.3], [752, 755], color="#444444", linewidth=0.8)
over.plot([381, 381], [752, 755], color="#444444", linewidth=0.8)
over.text(726, 744, "n=194,583", fontsize=9.9, ha="right", va="center", color="#222222")

over.text(14, 945, "Fraction of SV", fontsize=14.3, rotation=90, ha="center", va="center", color="#222222")
over.text(391, 1191, "Size", fontsize=15, ha="center", va="center", color="#222222")

for name, color, y in zip(sv_names, sv_colors, [912, 923, 935, 946, 957, 968.7, 980]):
    over.plot([673, 693], [y, y], color=color, linewidth=2.4, solid_capstyle="round")
    over.text(700, y, name, fontsize=7.4, va="center", color="#222222")

fig.savefig("out.png", dpi=100, facecolor="white")
plt.close(fig)
